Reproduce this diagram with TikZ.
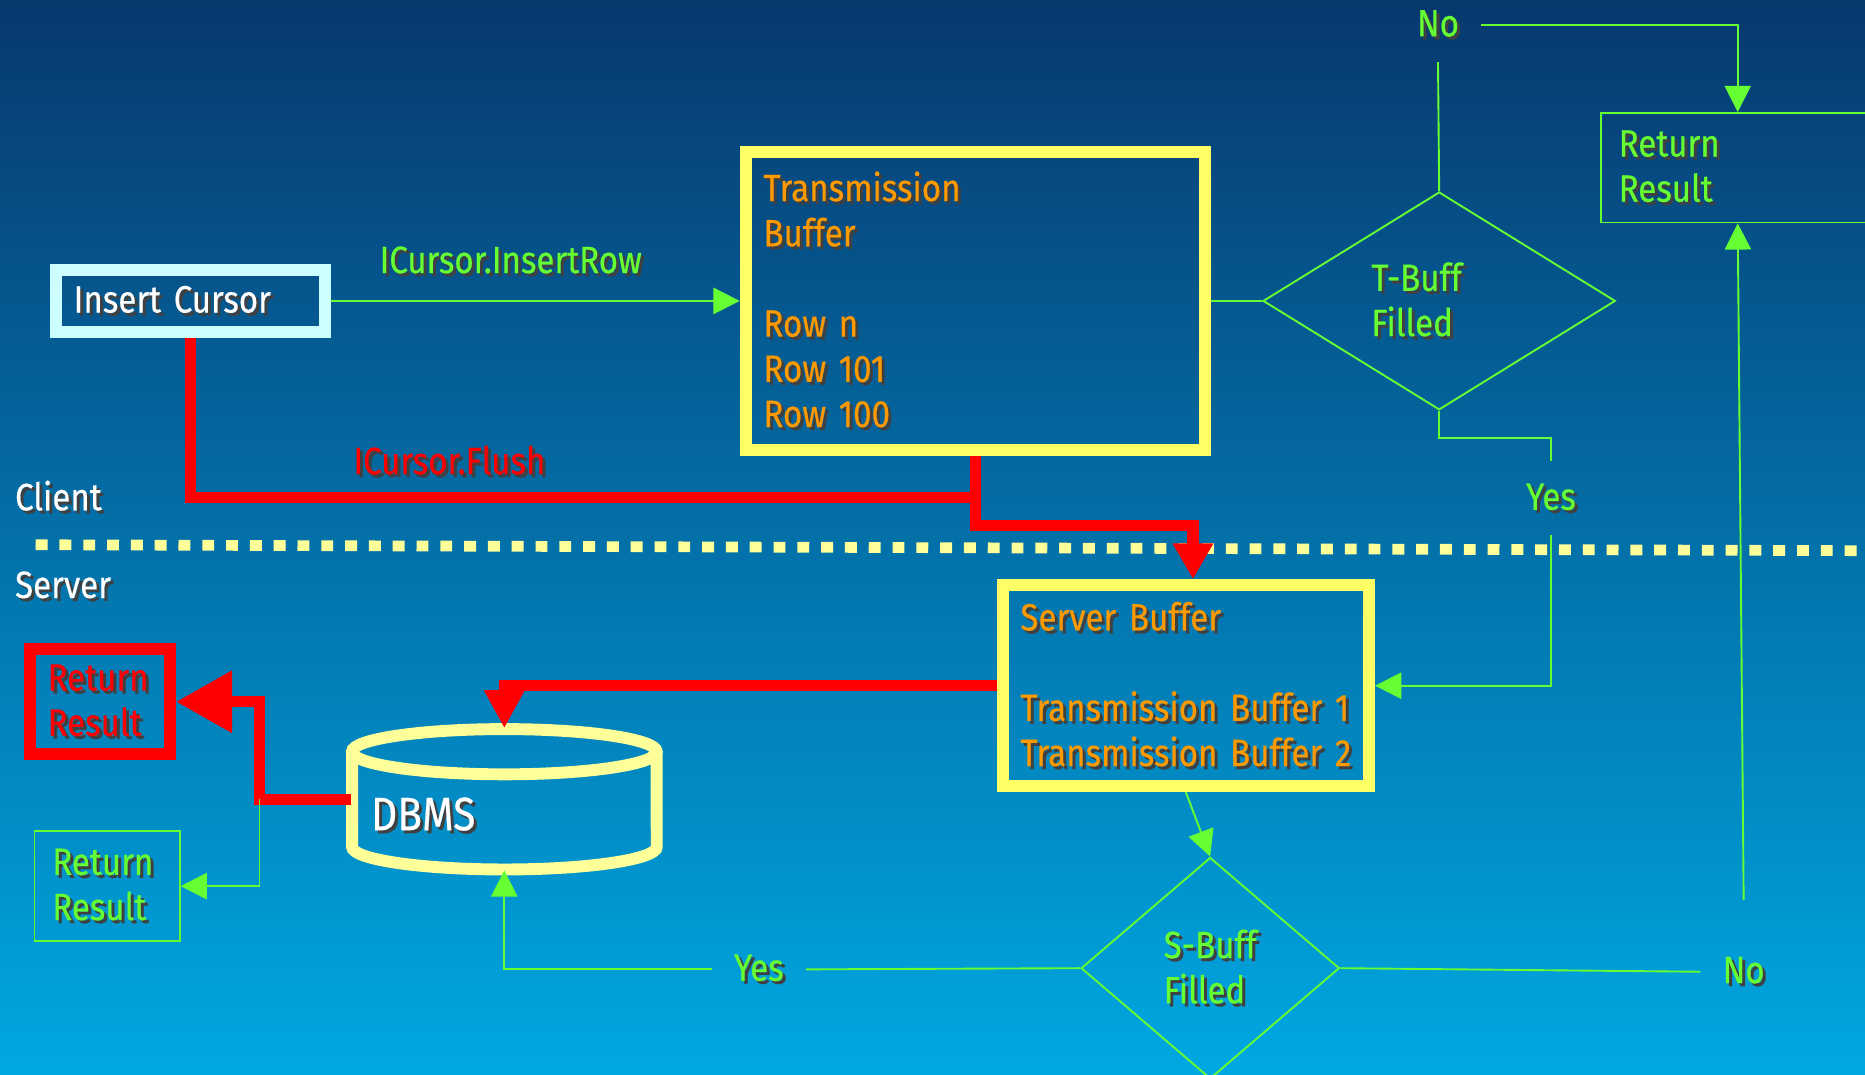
\documentclass[tikz,border=0pt]{standalone}
\usepackage{fontspec}
\setmainfont{Fira Sans}[FakeStretch=0.87, WordSpace=0.6, FakeBold=0.4]
\usetikzlibrary{arrows.meta,shapes.geometric}
\definecolor{bgtop}{RGB}{7,56,110}
\definecolor{bgbot}{RGB}{0,168,226}
\definecolor{lime}{RGB}{102,255,51}
\definecolor{ylw}{RGB}{255,255,102}
\definecolor{pale}{RGB}{255,255,153}
\definecolor{orng}{RGB}{255,153,0}
\definecolor{ice}{RGB}{204,255,255}
\newcommand\shd[1]{\leavevmode\rlap{\kern0.25mm\raisebox{-0.25mm}{\color{black!75}#1}}\mbox{#1}}

\begin{document}
\begin{tikzpicture}[x=0.01cm,y=-0.01cm,
every node/.style={font=\fontsize{9.1}{10.8}\selectfont},
buf/.style={draw=ylw, line width=1mm, text=orng, align=left, inner xsep=1.5mm, inner ysep=0pt},
res/.style={draw=lime, line width=0.45pt, text=lime, align=left, inner xsep=1.5mm, inner ysep=0pt, minimum height=0.92cm},
decide/.style={diamond, draw=lime, line width=0.45pt, text=lime, align=left, inner sep=0pt},
lbl/.style={text=lime, inner sep=1.8mm},
side/.style={text=white, anchor=west, inner sep=0pt},
gline/.style={draw=lime, line width=0.45pt},
garrow/.style={gline, -{Triangle[length=2.2mm,width=2.2mm]}},
flush/.style={draw=red, line width=0.95mm}]
\useasboundingbox (0,0) rectangle (1568,903);
\shade[top color=bgtop, bottom color=bgbot] (0,0) rectangle (1568,903);
\draw[pale, line width=0.9mm, dash pattern=on 1mm off 1mm] (30,458) -- (1568,463);

\node[side] (client) at (12,418) {\shd{Client}};
\node[side] (server) at (12,493) {\shd{Server}};

\node[draw=ice, line width=1mm, text=white, align=left, inner xsep=1.5mm, inner ysep=0pt,
  minimum width=2.26cm, minimum height=0.52cm, text width=1.96cm] (ic) at (160,253) {\shd{Insert Cursor}};
\node[buf, minimum width=3.86cm, minimum height=2.5cm, text width=3.56cm] (tb) at (820,253)
  {\shd{Transmission}\\\shd{Buffer}\\[3.8mm]\shd{Row n}\\\shd{Row 101}\\\shd{Row 100}};
\node[buf, minimum width=3.08cm, minimum height=1.69cm, text width=2.78cm] (sb) at (997,576.5)
  {\shd{Server Buffer}\\[3.8mm]\shd{Transmission Buffer 1}\\\shd{Transmission Buffer 2}};
\node[buf, draw=red, text=red, minimum width=1.18cm, minimum height=0.88cm, text width=0.88cm] (rr) at (84,590)
  {\shd{Return}\\\shd{Result}};
\node[res, minimum width=1.22cm, text width=0.92cm] (gr) at (90,745) {\shd{Return}\\\shd{Result}};
\node[res, minimum width=2.3cm, text width=2.0cm] (tr) at (1461,141) {\shd{Return}\\\shd{Result}};

\node[decide, minimum width=2.96cm, minimum height=1.83cm] (td) at (1210,253) {\shd{T-Buff}\hspace*{3.8mm}\\\shd{Filled}};
\node[decide, minimum width=2.17cm, minimum height=1.86cm] (sd) at (1017.5,814) {\shd{S-Buff}\\\shd{Filled}};

\node[minimum width=2.56cm, minimum height=1.18cm, inner xsep=1.6mm, inner ysep=0pt, text width=2.24cm,
  text=white, align=left, font=\fontsize{11.2}{13}\selectfont] (dbms) at (424,672) {\raisebox{-2.6mm}[0pt][0pt]{\shd{DBMS}}};
\draw[pale, line width=1mm] (296,632) -- (296,712) arc[start angle=180, end angle=360, x radius=1.28cm, y radius=0.19cm] -- (552,632);
\draw[pale, line width=1mm] (424,632) ellipse [x radius=1.28cm, y radius=0.19cm];

\node[lbl] (tno) at (1209,21) {\shd{No}};
\node[lbl] (tyes) at (1304,419) {\shd{Yes}};
\node[lbl] (syes) at (638,815) {\shd{Yes}};
\node[lbl] (sno) at (1466,817) {\shd{No}};

\draw[garrow] (ic) -- node[pos=0.44, above=0.8mm, text=lime] {\shd{ICursor.InsertRow}} (tb);
\draw[gline] (tb.east) -- (td.west);
\draw[gline] (td.north) -- (tno.south);
\draw[garrow] (tno.east) -| (tr.north);
\draw[gline] (td.south) -- ++(0,23) -| (tyes.north);
\draw[garrow] (tyes.south) |- (sb.east);
\draw[garrow] (sb.south) -- (sd.north);
\draw[gline] (sd.west) -- (syes.east);
\draw[garrow] (syes.west) -| (dbms.south);
\draw[gline] (sd.east) -- (sno.west);
\draw[garrow] (sno.north) ++(0,-29) -- (tr.south);

\draw[flush] (ic.south) -- ++(0,134) -| node[pos=0.165, above=0pt, text=red] {\shd{ICursor.Flush}} (tb.south);
\draw[flush, -{Triangle[length=3mm,width=3.2mm]}] (tb.south) -- ++(0,59) -| ([xshift=0.6mm]sb.north);
\draw[flush, -{Triangle[length=3.2mm,width=3.2mm]}] (sb.west) -| (dbms.north);
\draw[flush, -{Triangle[length=4.7mm,width=5mm]}] (dbms.west) -- ++(-77,0) coordinate (bend) |- (rr.east);
\draw[garrow] (bend) |- (gr.east);
\end{tikzpicture}
\end{document}
